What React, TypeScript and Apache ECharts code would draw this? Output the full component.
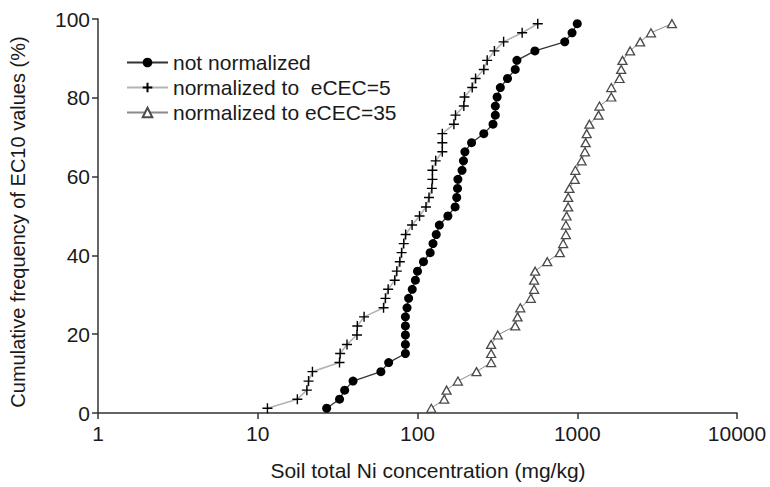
import React, { useEffect, useRef } from "react";
import * as echarts from "echarts";

// cumulative frequency (%) of each ranked EC10 value (43 soils)
const freq = [
  1.2, 3.5, 5.8, 8.1, 10.5, 12.8, 15.1, 17.4, 19.8, 22.1, 24.4, 26.7, 29.1, 31.4, 33.7,
  36.0, 38.4, 40.7, 43.0, 45.3, 47.7, 50.0, 52.3, 54.7, 57.0, 59.3, 61.6, 64.0, 66.3,
  68.6, 70.9, 73.3, 75.6, 77.9, 80.2, 82.6, 84.9, 87.2, 89.5, 91.9, 94.2, 96.5, 98.8,
];

// soil total Ni concentration (mg/kg)
const notNormalized = [
  27, 32.5, 35, 39.5, 59, 66, 84, 84, 84, 84, 84, 86, 88, 92.7, 97, 100, 109, 120, 125,
  131, 137, 155, 172, 176, 178, 179, 190, 194, 198, 218, 260, 297, 307, 307, 315, 330,
  366, 409, 419, 543, 835, 928, 1000,
];
const normalizedECEC5 = [
  11.5, 17.7, 20.3, 20.8, 22, 32.5, 32.8, 36.2, 41.8, 42, 46.3, 61.3, 63, 65.5, 72, 74.2,
  77.5, 79.5, 82, 84.3, 92.5, 103, 113, 118, 123, 124, 124, 130, 143, 143, 143, 169, 173,
  195, 197, 220, 231, 260, 273, 303, 346, 452, 566,
];
const normalizedECEC35 = [
  122, 147, 152, 179, 234, 289, 289, 289, 318, 409, 423, 440, 512, 537, 537, 545, 649,
  778, 816, 849, 849, 857, 877, 878, 893, 964, 973, 1064, 1117, 1129, 1146, 1191, 1359,
  1377, 1633, 1633, 1840, 1884, 1919, 2143, 2477, 2893, 3915,
];

const seriesNames = ["not normalized", "normalized to  eCEC=5", "normalized to eCEC=35"];
const xTickLabels = ["1", "10", "100", "1000", "10000"];
const yTickLabels = ["0", "20", "40", "60", "80", "100"];
const xTitle = "Soil total Ni concentration (mg/kg)";
const yTitle = "Cumulative frequency of EC10 values (%)";

export default function App() {
  const ref = useRef<HTMLDivElement>(null);
  useEffect(() => {
    const chart = echarts.init(ref.current!, null, { renderer: "svg" });
    const font = "'Liberation Sans', Arial, sans-serif";
    const pair = (xs: number[]) => xs.map((x, i) => [x, freq[i]]);
    const axisColor = "#333";
    chart.setOption({
      animation: false,
      backgroundColor: "#ffffff",
      grid: { left: 98, right: 33, top: 19, bottom: 74, containLabel: false },
      xAxis: {
        type: "log",
        logBase: 10,
        min: 1,
        max: 10000,
        axisLine: { show: true, lineStyle: { color: axisColor, width: 1.5 } },
        axisTick: { show: true, inside: false, length: 6, lineStyle: { color: axisColor, width: 1.5 } },
        minorTick: { show: false },
        splitLine: { show: false },
        axisLabel: {
          margin: 10,
          color: "#1a1a1a",
          fontSize: 21,
          fontFamily: font,
          formatter: (v: number) => xTickLabels[Math.round(Math.log10(v))],
        },
      },
      yAxis: {
        type: "value",
        min: 0,
        max: 100,
        interval: 20,
        axisLine: { show: true, lineStyle: { color: axisColor, width: 1.5 } },
        axisTick: { show: true, inside: false, length: 6, lineStyle: { color: axisColor, width: 1.5 } },
        splitLine: { show: false },
        axisLabel: {
          margin: 8,
          color: "#1a1a1a",
          fontSize: 21,
          fontFamily: font,
          formatter: (v: number) => yTickLabels[Math.round(v / 20)],
        },
      },
      legend: {
        orient: "vertical",
        left: 121,
        top: 47,
        itemWidth: 41,
        itemHeight: 12,
        itemGap: 4,
        data: seriesNames,
        textStyle: { fontSize: 21, fontFamily: font, color: "#1a1a1a", lineHeight: 21 },
      },
      graphic: [
        {
          type: "text",
          x: 428,
          y: 470,
          style: {
            text: xTitle,
            x: 0,
            y: 0,
            align: "center",
            verticalAlign: "middle",
            fontSize: 21,
            fontFamily: font,
            fill: "#1a1a1a",
          },
        },
        {
          type: "text",
          x: 18,
          y: 222,
          rotation: Math.PI / 2,
          style: {
            text: yTitle,
            x: 0,
            y: 0,
            align: "center",
            verticalAlign: "middle",
            fontSize: 20,
            fontFamily: font,
            fill: "#1a1a1a",
          },
        },
      ],
      series: [
        {
          name: seriesNames[1],
          type: "line",
          data: pair(normalizedECEC5),
          symbol: "path://M5,0L5,10M0,5L10,5",
          symbolSize: 10,
          itemStyle: { color: "none", borderColor: "#000", borderWidth: 1.4 },
          lineStyle: { color: "#b3b3b3", width: 1.6 },
          z: 2,
        },
        {
          name: seriesNames[2],
          type: "line",
          data: pair(normalizedECEC35),
          symbol: "triangle",
          symbolSize: [9, 8],
          itemStyle: { color: "#ffffff", borderColor: "#4a4a4a", borderWidth: 1.3 },
          lineStyle: { color: "#8a8a8a", width: 1 },
          z: 2,
        },
        {
          name: seriesNames[0],
          type: "line",
          data: pair(notNormalized),
          symbol: "circle",
          symbolSize: 9,
          itemStyle: { color: "#000" },
          lineStyle: { color: "#333", width: 1.3 },
          z: 3,
        },
      ],
    });
    return () => chart.dispose();
  }, []);
  return (
    <div
      ref={ref}
      style={{ position: "fixed", left: 0, top: 0, width: 770, height: 487, background: "#fff" }}
    />
  );
}
